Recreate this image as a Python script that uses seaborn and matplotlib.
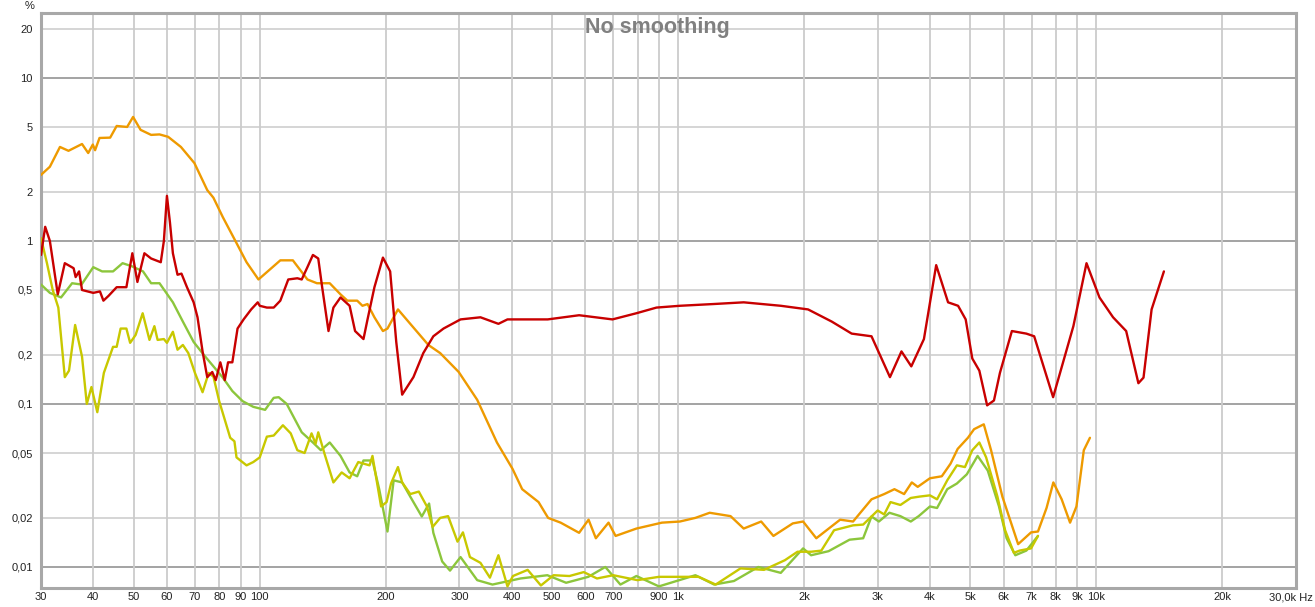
import numpy as np
import pandas as pd
import matplotlib
matplotlib.use('Agg')
import matplotlib.pyplot as plt
import seaborn as sns

# ============================================================
# Data (frequency in Hz, level in %)
# ============================================================
red_f = [30, 30.7, 31.5, 32.9, 34.2, 35.9, 36.3, 37, 37.6, 40, 41.5, 42.3, 43.5, 45.5, 48,
         49.6, 51, 53, 55, 58, 59, 60, 61, 62, 63.6, 65, 67, 69.5, 71, 73, 74.9, 77, 78.5,
         80.5, 82.5, 84, 86, 88.5, 91.5, 95.4, 98.9, 100, 104, 108, 112, 117, 123, 126, 130,
         134, 138, 141, 146, 150, 156, 164, 169, 177, 181, 188, 197, 205, 212, 219, 233, 246,
         260, 275, 302, 337, 372, 391, 488, 580, 697, 795, 888, 1010, 1215, 1435, 1760, 2045,
         2330, 2600, 2900, 3210, 3420, 3610, 3870, 4140, 4420, 4670, 4870, 5050, 5250, 5480,
         5690, 5880, 6280, 6800, 7100, 7880, 8810, 9470, 10170, 10960, 11780, 12600, 12960,
         13550, 14500]
red_v = [0.82, 1.22, 1.0, 0.47, 0.73, 0.68, 0.60, 0.65, 0.50, 0.48, 0.49, 0.43, 0.46, 0.52, 0.52,
         0.84, 0.56, 0.84, 0.78, 0.74, 1.0, 1.89, 1.3, 0.84, 0.62, 0.63, 0.52, 0.42, 0.34, 0.21,
         0.146, 0.157, 0.14, 0.18, 0.14, 0.18, 0.18, 0.29, 0.33, 0.38, 0.42, 0.40, 0.39, 0.39,
         0.43, 0.58, 0.59, 0.58, 0.69, 0.82, 0.78, 0.52, 0.28, 0.39, 0.45, 0.40, 0.28, 0.25,
         0.33, 0.52, 0.79, 0.65, 0.24, 0.114, 0.146, 0.205, 0.26, 0.29, 0.33, 0.34, 0.31, 0.33,
         0.33, 0.35, 0.33, 0.36, 0.39, 0.40, 0.41, 0.42, 0.40, 0.38, 0.32, 0.27, 0.26, 0.146,
         0.21, 0.17, 0.25, 0.71, 0.42, 0.40, 0.33, 0.19, 0.16, 0.098, 0.105, 0.155, 0.28, 0.27,
         0.26, 0.11, 0.30, 0.73, 0.45, 0.34, 0.28, 0.134, 0.145, 0.38, 0.65]

orange_f = [30, 31.5, 33.3, 34.9, 37.6, 38.9, 39.9, 40.4, 41.4, 43.9, 45.5, 48.2, 49.8, 51.9, 55,
            57.6, 60.4, 64.8, 69.8, 74.9, 77.5, 81.6, 88, 93, 99.3, 112, 120, 130, 137, 147,
            156, 162, 171, 176, 181, 188, 197, 202, 214, 229, 253, 270, 299, 331, 369, 402,
            424, 464, 489, 524, 580, 611, 636, 682, 709, 795, 915, 1010, 1100, 1190, 1335, 1435,
            1580, 1690, 1880, 1990, 2140, 2440, 2620, 2900, 3110, 3290, 3470, 3620, 3740, 4000,
            4270, 4480, 4660, 4930, 5100, 5380, 5600, 5960, 6500, 6980, 7250, 7600, 7890, 8260,
            8650, 8960, 9330, 9650]
orange_v = [2.54, 2.85, 3.77, 3.57, 3.93, 3.46, 3.9, 3.6, 4.28, 4.3, 5.07, 5.0, 5.76, 4.8, 4.47,
            4.5, 4.35, 3.77, 3.0, 2.05, 1.84, 1.40, 0.97, 0.74, 0.58, 0.76, 0.76, 0.58, 0.55,
            0.55, 0.47, 0.43, 0.43, 0.40, 0.41, 0.34, 0.28, 0.29, 0.38, 0.31, 0.23, 0.205, 0.157,
            0.106, 0.058, 0.040, 0.030, 0.025, 0.020, 0.0187, 0.0162, 0.0195, 0.015, 0.0187,
            0.0155, 0.0172, 0.0187, 0.019, 0.020, 0.0215, 0.0205, 0.0172, 0.019, 0.0155, 0.0185,
            0.019, 0.015, 0.0195, 0.019, 0.026, 0.028, 0.030, 0.028, 0.033, 0.031, 0.035, 0.036,
            0.043, 0.053, 0.062, 0.070, 0.075, 0.052, 0.027, 0.0138, 0.0163, 0.0165, 0.023,
            0.033, 0.026, 0.0187, 0.0235, 0.052, 0.062]

green_f = [30, 31.5, 33.5, 35.6, 37.5, 40, 42, 44.6, 47, 49.4, 52.6, 55, 57.6, 62, 65.5, 69.5,
           73.5, 77.5, 81.6, 86, 91, 96.5, 103, 108, 111, 116, 126, 134, 140, 147, 156, 164,
           171, 177, 186, 193, 202, 209, 219, 229, 244, 254, 260, 273, 285, 302, 331, 360, 420,
           487, 540, 610, 670, 728, 795, 900, 1100, 1220, 1360, 1555, 1760, 1990, 2080, 2290,
           2570, 2770, 2900, 3020, 3200, 3400, 3600, 3760, 4000, 4160, 4400, 4640, 4900, 5200,
           5500, 5850, 6100, 6400, 6800, 7250]
green_v = [0.54, 0.48, 0.45, 0.55, 0.54, 0.69, 0.65, 0.65, 0.73, 0.70, 0.65, 0.55, 0.55, 0.42,
           0.32, 0.24, 0.20, 0.17, 0.145, 0.12, 0.104, 0.096, 0.092, 0.109, 0.11, 0.10, 0.067,
           0.058, 0.052, 0.058, 0.048, 0.038, 0.036, 0.045, 0.045, 0.030, 0.0165, 0.034, 0.033,
           0.027, 0.0204, 0.0245, 0.0162, 0.0108, 0.0095, 0.0115, 0.0083, 0.0078, 0.0085,
           0.0089, 0.0080, 0.0087, 0.0100, 0.0078, 0.0088, 0.0076, 0.0089, 0.0078, 0.0082,
           0.0100, 0.0092, 0.013, 0.0118, 0.0125, 0.0147, 0.015, 0.0204, 0.019, 0.0215, 0.0205,
           0.019, 0.0205, 0.0235, 0.023, 0.030, 0.0325, 0.037, 0.048, 0.039, 0.0235, 0.015,
           0.0118, 0.0126, 0.0155]

yellow_f = [30, 31, 32, 33, 34.2, 35, 36.2, 37.6, 38.6, 39.6, 40.9, 42.4, 44.6, 45.5, 46.5, 48,
            49, 50.5, 52.5, 54.5, 56, 57, 59, 60, 62, 63.6, 65.5, 67.5, 70, 73, 75.5, 77.5, 80,
            85, 87, 88, 93, 96.5, 100, 104, 108, 113.6, 118.6, 123, 128, 133, 136, 138, 143,
            150, 157, 164, 172, 183, 186, 195, 201, 206, 214, 219, 229, 240, 251, 259, 270, 282,
            297, 306, 318, 337, 355, 372, 391, 403, 437, 470, 504, 550, 595, 640, 700, 800, 900,
            1120, 1230, 1410, 1605, 1800, 1930, 2080, 2200, 2360, 2620, 2770, 3000, 3110, 3220,
            3400, 3600, 3770, 4000, 4160, 4400, 4640, 4850, 5050, 5250, 5450, 5800, 6050, 6350,
            6550, 6980, 7250]
yellow_v = [1.04, 0.73, 0.50, 0.39, 0.146, 0.16, 0.305, 0.195, 0.10, 0.127, 0.089, 0.155, 0.224,
            0.224, 0.29, 0.29, 0.237, 0.265, 0.36, 0.247, 0.30, 0.247, 0.25, 0.237, 0.277, 0.215,
            0.23, 0.205, 0.155, 0.118, 0.155, 0.147, 0.104, 0.062, 0.059, 0.047, 0.042, 0.044,
            0.047, 0.063, 0.064, 0.074, 0.066, 0.052, 0.050, 0.066, 0.057, 0.067, 0.049, 0.033,
            0.038, 0.035, 0.044, 0.042, 0.048, 0.0235, 0.025, 0.0325, 0.041, 0.033, 0.028,
            0.029, 0.0235, 0.0176, 0.020, 0.0205, 0.0143, 0.0163, 0.0115, 0.0106, 0.0086,
            0.0118, 0.0076, 0.0088, 0.0096, 0.0077, 0.0089, 0.0088, 0.0093, 0.0085, 0.0089,
            0.0083, 0.0087, 0.0087, 0.0078, 0.0098, 0.0096, 0.011, 0.0124, 0.0124, 0.0126,
            0.0168, 0.018, 0.0182, 0.0222, 0.021, 0.025, 0.024, 0.0265, 0.027, 0.0275, 0.026,
            0.034, 0.042, 0.041, 0.052, 0.058, 0.047, 0.027, 0.0168, 0.0122, 0.0126, 0.013,
            0.0155]

series_names = ['green', 'yellow', 'orange', 'red']
series_colors = {'green': '#8cc63c', 'yellow': '#c8c800', 'orange': '#ee9a00', 'red': '#c80000'}

x_ticks = [30, 40, 50, 60, 70, 80, 90, 100, 200, 300, 400, 500, 600, 700, 800, 900,
           1000, 2000, 3000, 4000, 5000, 6000, 7000, 8000, 9000, 10000, 20000, 30000]
x_labels = ['30', '40', '50', '60', '70', '80', '90', '100', '200', '300', '400', '500',
            '600', '700', '', '900', '1k', '2k', '3k', '4k', '5k', '6k', '7k', '8k', '9k',
            '10k', '20k', '']
y_ticks = [0.01, 0.02, 0.05, 0.1, 0.2, 0.5, 1, 2, 5, 10, 20]
y_labels = ['0,01', '0,02', '0,05', '0,1', '0,2', '0,5', '1', '2', '5', '10', '20']

# ============================================================
# Build long-form table
# ============================================================
frames = []
for name, f, v in [('green', green_f, green_v), ('yellow', yellow_f, yellow_v),
                   ('orange', orange_f, orange_v), ('red', red_f, red_v)]:
    frames.append(pd.DataFrame({'freq': f, 'pct': v, 'series': name}))
df = pd.concat(frames, ignore_index=True)

# ============================================================
# Plot
# ============================================================
sns.set_style('white')
plt.rcParams['font.family'] = ['Liberation Sans', 'DejaVu Sans']

W, H = 1315, 607
fig = plt.figure(figsize=(W / 100, H / 100), dpi=100)
ax = fig.add_axes([41 / W, 1 - 588 / H, (1296 - 41) / W, (588 - 13) / H])

ax.set_xscale('log')
ax.set_yscale('log')
ax.set_xlim(30, 30000)
ax.set_ylim(0.00743, 25.0)

# grid: decades darker, the rest light
for yt in y_ticks:
    decade = yt in (0.01, 0.1, 1, 10)
    ax.axhline(yt, color='#9c9c9c' if decade else '#d2d2d2', lw=1.3, zorder=0)
for xt in x_ticks[:-1]:
    ax.axvline(xt, color='#cccccc', lw=1.3, zorder=0)

for name in series_names:
    sns.lineplot(data=df[df['series'] == name], x='freq', y='pct', ax=ax,
                 color=series_colors[name], lw=1.7, sort=False, estimator=None,
                 legend=False, zorder=3)

ax.set_xticks(x_ticks)
ax.set_xticklabels(x_labels)
ax.set_yticks(y_ticks)
ax.set_yticklabels(y_labels)
ax.minorticks_off()
ax.tick_params(axis='both', length=0, labelsize=8, colors='#222222')
ax.tick_params(axis='x', pad=3)
ax.tick_params(axis='y', pad=6)
ax.set_xlabel('')
ax.set_ylabel('')

for sp in ax.spines.values():
    sp.set_color('#a8a8a8')
    sp.set_linewidth(2.2)

fig.text(657 / W, 1 - 27 / H, 'No smoothing', ha='center', va='center',
         fontsize=15.5, fontweight='bold', color='#808080', zorder=5)
fig.text(30 / W, 1 - 6 / H, '%', ha='center', va='center', fontsize=8, color='#222222')
fig.text(1313 / W, 1 - 598 / H, '30,0k Hz', ha='right', va='center', fontsize=8,
         color='#222222')

plt.savefig('out.png', dpi=100)
